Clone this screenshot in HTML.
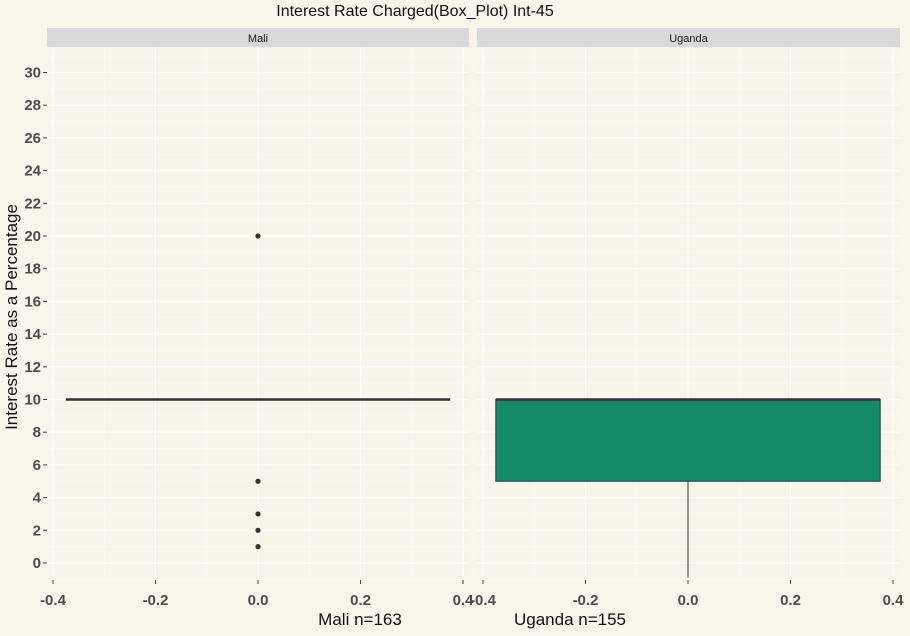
<!DOCTYPE html>
<html><head><meta charset="utf-8"><style>
html,body{margin:0;background:#f9f5eb;overflow:hidden;font-family:"Liberation Sans",Arial,sans-serif}
svg{display:block}
svg text{font-family:"Liberation Sans",Arial,sans-serif}
</style></head><body>
<svg id="c" width="910" height="636" xmlns="http://www.w3.org/2000/svg">
<rect width="910" height="636" fill="#f9f5eb"/>
<text x="415" y="16" font-size="16" text-anchor="middle" fill="#111">Interest Rate Charged(Box_Plot) Int-45</text>
<text transform="translate(17,317) rotate(-90)" font-size="17" text-anchor="middle" fill="#111">Interest Rate as a Percentage</text>
<g id="g"></g>
</svg>
<script>
const panels=["Mali","Uganda"];
const xLabels=["Mali n=163","Uganda n=155"];
const yTicks=[0,2,4,6,8,10,12,14,16,18,20,22,24,26,28,30];
const xTicks=[-0.4,-0.2,0,0.2,0.4];
const q1=[10,5];
const med=[10,10];
const q3=[10,10];
const whiskLo=[10,-0.9];
const whiskHi=[10,10];
const outliersMali=[20,5,3,2,1];
const outliersUganda=[];
const outliers=[outliersMali,outliersUganda];
const NS="http://www.w3.org/2000/svg";
const g=document.getElementById('g');
function el(t,a,p){const e=document.createElementNS(NS,t);for(const k in a)e.setAttribute(k,a[k]);(p||g).appendChild(e);return e;}
const pTop=47,pBot=580;
const y=v=>563-v*16.35;
const px=[[47,469],[477,900]];
const x0=[258,688];
function x(i,v){return x0[i]+v*512.5;}
panels.forEach((name,i)=>{
  const [L,R]=px[i];
  const pg=el('g',{});
  
  
  el('rect',{x:L,y:pTop,width:R-L,height:pBot-pTop,fill:'#f8f4e9'},pg);
  for(let v=-1;v<=31;v+=2){const yy=y(v);if(yy>pTop&&yy<pBot)el('line',{x1:L,x2:R,y1:yy,y2:yy,stroke:'#fcfaf4','stroke-width':0.6},pg);}
  [-0.3,-0.1,0.1,0.3].forEach(v=>el('line',{x1:x(i,v),x2:x(i,v),y1:pTop,y2:pBot,stroke:'#fcfaf4','stroke-width':0.6},pg));
  yTicks.forEach(v=>el('line',{x1:L,x2:R,y1:y(v),y2:y(v),stroke:'#fff','stroke-width':1.1},pg));
  xTicks.forEach(v=>{
    el('line',{x1:x(i,v),x2:x(i,v),y1:pTop,y2:pBot,stroke:'#fff','stroke-width':1.1},pg);
    el('line',{x1:x(i,v),x2:x(i,v),y1:pBot,y2:pBot+4,stroke:'#444'},pg);
    const t=el('text',{x:x(i,v),y:pBot+25,'font-size':15,'font-weight':'bold','text-anchor':'middle',fill:'#4d4d4d'},pg);
    t.textContent=v.toFixed(1);
    
    
  });
  const s=el('rect',{x:L,y:28,width:R-L,height:19,fill:'#d9d9d9'},pg);
  
  
  const st=el('text',{x:(L+R)/2,y:42,'font-size':11,'text-anchor':'middle',fill:'#1a1a1a'},pg);
  st.textContent=name;
  const xl=el('text',{x:i==0?360:570,y:625,'font-size':17,'text-anchor':'middle',fill:'#111'},pg);
  xl.textContent=xLabels[i];
  
  
  el('line',{x1:x(i,0),x2:x(i,0),y1:y(q1[i]),y2:y(whiskLo[i]),stroke:'#333','stroke-width':1},pg);
  el('line',{x1:x(i,0),x2:x(i,0),y1:y(q3[i]),y2:y(whiskHi[i]),stroke:'#333','stroke-width':1},pg);
  const b=el('rect',{x:x(i,-0.375),y:y(q3[i]),width:x(i,0.375)-x(i,-0.375),height:Math.max(0,y(q1[i])-y(q3[i])),fill:'#138a6c',stroke:'#333','stroke-width':1},pg);
  
  
  el('line',{x1:x(i,-0.375),x2:x(i,0.375),y1:y(med[i]),y2:y(med[i]),stroke:'#333','stroke-width':2.5},pg);
  outliers[i].forEach(v=>{
    const c=el('circle',{cx:x(i,0),cy:y(v),r:2.6,fill:'#333'},pg);
    
    
  });
});
yTicks.forEach(v=>{
  el('line',{x1:43,x2:47,y1:y(v),y2:y(v),stroke:'#444'});
  const t=el('text',{x:41,y:y(v)+5,'font-size':15,'font-weight':'bold','text-anchor':'end',fill:'#4d4d4d'});
  t.textContent=v;
  
  
});
</script>
</body></html>
